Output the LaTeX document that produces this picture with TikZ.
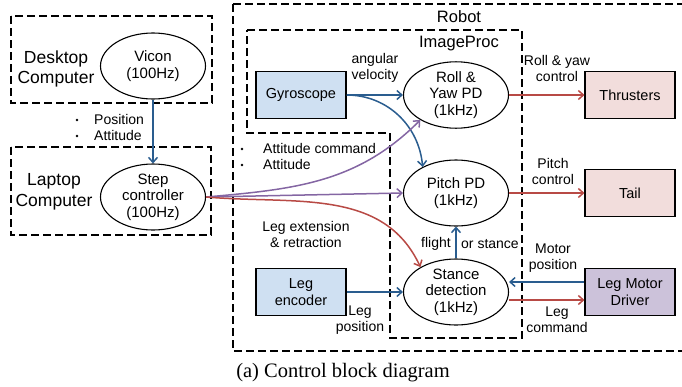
\documentclass[tikz,border=0pt]{standalone}
\usepackage{fontspec}
\setmainfont{Liberation Sans}
\newfontfamily\capfont{Liberation Serif}
\usetikzlibrary{arrows.meta,shapes.geometric}
\definecolor{cblue}{HTML}{2A5D8F}
\definecolor{cred}{HTML}{B84A45}
\definecolor{cpurple}{HTML}{8466A3}
\definecolor{fblue}{HTML}{CFE0F2}
\definecolor{fpink}{HTML}{F2DDDC}
\definecolor{fpurple}{HTML}{CCC2DA}
\begin{document}
\begin{tikzpicture}[x=1pt,y=1pt,
  grp/.style={draw, line width=1.1pt, dash pattern=on 8pt off 4pt},
  ell/.style={draw, ellipse, line width=1.1pt, minimum width=105pt, minimum height=66pt, inner sep=0pt, align=center, font=\fontsize{15}{16.5}\selectfont},
  blk/.style={draw, line width=1.1pt, minimum width=90pt, minimum height=47pt, inner sep=0pt, align=center, font=\fontsize{14.5}{16.5}\selectfont},
  arr/.style={-{Straight Barb[length=5pt,width=9pt]}, line width=1.5pt},
  lbl/.style={font=\fontsize{14}{16}\selectfont, align=center, inner sep=0pt},
  big/.style={font=\fontsize{17.5}{20.5}\selectfont, align=center, inner sep=0pt},
  dot/.style={circle, fill=black, inner sep=0pt, minimum size=2.6pt}
]
\useasboundingbox (0,0) rectangle (682,-386);
\begin{scope}
\clip (0,0) rectangle (682,-386);
\draw[grp] (11,-16) rectangle (212,-103);
\draw[grp] (11,-147) rectangle (211,-235);
\draw[grp] (233,-4) -- (700,-4) (233,-4) -- (233,-351) -- (700,-351);
\draw[grp] (247,-30) -- (522,-30) -- (522,-338) -- (390,-338) -- (390,-133) -- (247,-133) -- cycle;
\end{scope}

% group labels
\node[big] (desk) at (56,-69) {Desktop\\Computer};
\node[big] (lap) at (54,-192) {Laptop\\Computer};
\node[lbl, font=\fontsize{16.5}{18}\selectfont] (robot) at (459,-17) {Robot};
\node[lbl, font=\fontsize{16.5}{18}\selectfont] (imgp) at (459,-44) {ImageProc};

% nodes
\node[ell] (vicon) at (153,-66) {Vicon\\(100Hz)};
\node[ell] (step) at (153,-197) {Step\\controller\\(100Hz)};
\node[ell] (roll) at (456,-95) {Roll \&\\Yaw PD\\(1kHz)};
\node[ell] (pitch) at (456,-193) {Pitch PD\\(1kHz)};
\node[ell] (stance) at (456,-292) {Stance\\detection\\(1kHz)};
\node[blk, fill=fblue] (gyro) at (301,-95) {Gyroscope};
\node[blk, fill=fblue] (enc) at (301,-292) {Leg\\encoder};
\node[blk, fill=fpink] (thr) at (630,-95) {Thrusters};
\node[blk, fill=fpink] (tail) at (630,-193) {Tail};
\node[blk, fill=fpurple] (motor) at (630,-292) {Leg Motor\\Driver};

% arrows
\draw[arr, cblue] (vicon) -- (step);
\draw[arr, cblue] (gyro.east) -- (roll.west);
\draw[arr, cblue] (gyro.east) to[out=0, in=95] (pitch.142);
\draw[arr, cpurple] (step.east) to[out=5, in=225] (roll.215);
\draw[arr, cpurple] (step.east) -- (pitch.west);
\draw[arr, cred] (step.east) to[out=-5, in=115] (stance.145);
\draw[arr, cblue] (stance) -- (pitch);
\draw[arr, cred] (roll.east) -- (thr.west);
\draw[arr, cred] (pitch.east) -- (tail.west);
\draw[arr, cblue] (enc.east) -- (stance.west);
\coordinate (mi) at (motor.west |- 0,-282);
\draw[arr, cblue] (mi) -- (mi -| stance.east);
\coordinate (mo) at (motor.west |- 0,-300);
\draw[arr, cred] (mo -| stance.east) -- (mo);

% labels
\node[lbl, align=left, anchor=west] (pa) at (94,-127) {Position\\Attitude};
\node[dot] (b1) at (77,-120) {};
\node[dot] (b2) at (77,-136) {};
\node[lbl, align=left, anchor=west] (ac) at (263,-156) {Attitude command\\Attitude};
\node[dot] (b3) at (242,-149) {};
\node[dot] (b4) at (242,-165) {};
\node[lbl] (angv) at (375,-68) {angular\\velocity};
\node[lbl] (ryc) at (557,-68) {Roll \& yaw\\control};
\node[lbl] (pc) at (553,-171) {Pitch\\control};
\node[lbl] (ler) at (306,-234) {Leg extension\\\& retraction};
\node[lbl] (lp) at (360,-320) {Leg\\position};
\node[lbl, anchor=east] (fl) at (451,-244) {flight};
\node[lbl, anchor=west] (os) at (461,-244) {or stance};
\node[lbl] (mp) at (553,-258) {Motor\\position};
\node[lbl] (lc) at (557,-320) {Leg\\command};

% caption
\node[inner sep=0pt, font=\capfont\fontsize{20.5}{24}\selectfont] (cap) at (343,-373) {(a) Control block diagram};
\end{tikzpicture}
\end{document}
